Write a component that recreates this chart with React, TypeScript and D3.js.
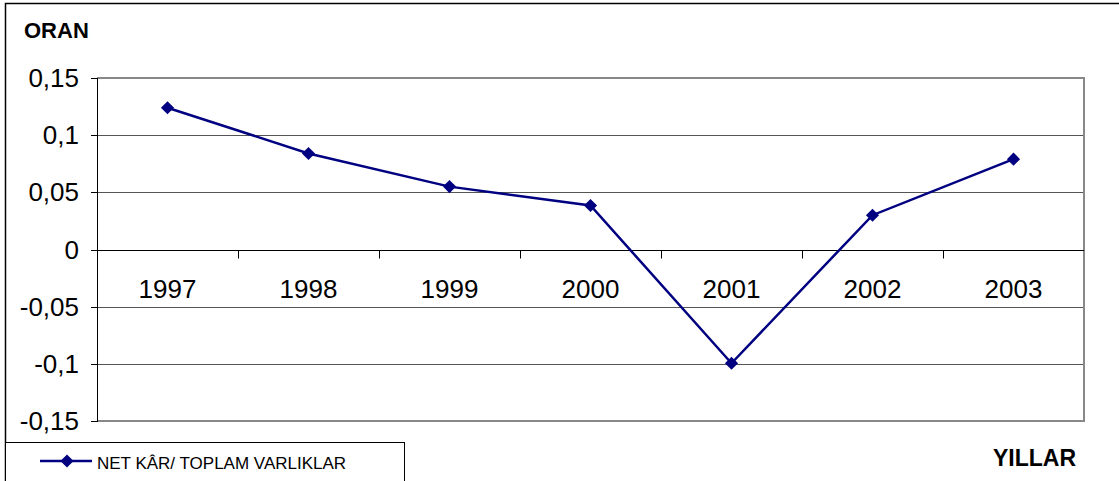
import React, { useEffect, useRef } from 'react';
import * as d3 from 'd3';

const years = ['1997', '1998', '1999', '2000', '2001', '2002', '2003'];
const ratios = [0.124, 0.084, 0.055, 0.0385, -0.0995, 0.03, 0.079];
const yTicks = [0.15, 0.1, 0.05, 0, -0.05, -0.1, -0.15];
const seriesName = 'NET KÂR/ TOPLAM VARLIKLAR';

const W = 1119;
const H = 481;
const margin = { left: 97, right: 35, top: 78, bottom: 60 };
const navy = '#000080';
const font = '"Liberation Sans", Arial, sans-serif';

export default function App() {
  const svgRef = useRef<SVGSVGElement>(null);

  useEffect(() => {
    if (!svgRef.current) return;
    const svg = d3.select(svgRef.current);
    svg.selectAll('*').remove();

    const x0 = margin.left;
    const x1 = W - margin.right;
    const y0 = margin.top;
    const y1 = H - margin.bottom;

    const x = d3.scaleBand<string>().domain(years).range([x0, x1]);
    const y = d3.scaleLinear().domain([-0.15, 0.15]).range([y1, y0]);
    const fmt = (v: number) => String(v).replace('.', ',');

    // outer chart border
    svg.append('rect')
      .attr('x', 5.5).attr('y', 3.5)
      .attr('width', W + 10).attr('height', H + 10)
      .attr('fill', 'none').attr('stroke', '#000').attr('stroke-width', 1.5);

    // gridlines
    svg.append('g')
      .selectAll('line')
      .data(yTicks.filter(t => t !== 0.15 && t !== -0.15 && t !== 0))
      .join('line')
      .attr('x1', x0).attr('x2', x1)
      .attr('y1', d => Math.round(y(d)) + 0.5).attr('y2', d => Math.round(y(d)) + 0.5)
      .attr('stroke', '#555').attr('stroke-width', 1);

    // plot area border (gray)
    svg.append('path')
      .attr('d', `M${x0},${y0}H${x1}V${y1}H${x0}`)
      .attr('fill', 'none').attr('stroke', '#888').attr('stroke-width', 2);

    // y axis
    svg.append('line')
      .attr('x1', x0 + 0.5).attr('x2', x0 + 0.5)
      .attr('y1', y0).attr('y2', y1 + 1)
      .attr('stroke', '#000').attr('stroke-width', 1);

    const yt = svg.append('g');
    yt.selectAll('line')
      .data(yTicks)
      .join('line')
      .attr('x1', x0 - 6).attr('x2', x0)
      .attr('y1', d => Math.round(y(d)) + 0.5).attr('y2', d => Math.round(y(d)) + 0.5)
      .attr('stroke', '#000');
    yt.selectAll('text')
      .data(yTicks)
      .join('text')
      .attr('x', x0 - 18)
      .attr('y', d => y(d) + 9)
      .attr('text-anchor', 'end')
      .attr('font-family', font)
      .attr('font-size', 26)
      .text(d => fmt(d));

    // zero axis with category ticks
    const zy = Math.round(y(0)) + 0.5;
    svg.append('line')
      .attr('x1', x0).attr('x2', x1)
      .attr('y1', zy).attr('y2', zy)
      .attr('stroke', '#000');
    svg.append('g')
      .selectAll('line')
      .data(years.slice(1))
      .join('line')
      .attr('x1', d => Math.round(x(d)!) + 0.5).attr('x2', d => Math.round(x(d)!) + 0.5)
      .attr('y1', zy).attr('y2', zy + 8)
      .attr('stroke', '#000');
    svg.append('g')
      .selectAll('text')
      .data(years)
      .join('text')
      .attr('x', d => x(d)! + x.bandwidth() / 2)
      .attr('y', zy + 47)
      .attr('text-anchor', 'middle')
      .attr('font-family', font)
      .attr('font-size', 26)
      .text(d => d);

    // series
    const pts = years.map((yr, i) => [x(yr)! + x.bandwidth() / 2, y(ratios[i])] as [number, number]);
    svg.append('path')
      .datum(pts)
      .attr('fill', 'none')
      .attr('stroke', navy)
      .attr('stroke-width', 2.5)
      .attr('d', d3.line());
    const diamond = d3.symbol().type(d3.symbolDiamond2).size(110);
    svg.append('g')
      .selectAll('path')
      .data(pts)
      .join('path')
      .attr('transform', d => `translate(${d[0]},${d[1]})`)
      .attr('d', diamond)
      .attr('fill', navy);

    // titles
    svg.append('text')
      .attr('x', 24).attr('y', 38)
      .attr('font-family', font).attr('font-size', 22).attr('font-weight', 'bold')
      .text('ORAN');
    svg.append('text')
      .attr('x', 1076).attr('y', 466)
      .attr('text-anchor', 'end')
      .attr('font-family', font).attr('font-size', 23).attr('font-weight', 'bold')
      .text('YILLAR');

    // legend
    const lg = svg.append('g');
    lg.append('rect')
      .attr('x', 5.5).attr('y', 442.5)
      .attr('width', 399).attr('height', 60)
      .attr('fill', '#fff').attr('stroke', '#000').attr('stroke-width', 1);
    lg.append('line')
      .attr('x1', 40).attr('x2', 92).attr('y1', 461).attr('y2', 461)
      .attr('stroke', navy).attr('stroke-width', 2.5);
    lg.append('path')
      .attr('transform', 'translate(67,461)')
      .attr('d', diamond)
      .attr('fill', navy);
    lg.append('text')
      .attr('x', 97).attr('y', 469)
      .attr('font-family', font).attr('font-size', 17)
      .text(seriesName);
  }, []);

  return (
    <svg
      ref={svgRef}
      width={W}
      height={H}
      style={{ position: 'absolute', left: 0, top: 0, background: '#fff' }}
    />
  );
}
